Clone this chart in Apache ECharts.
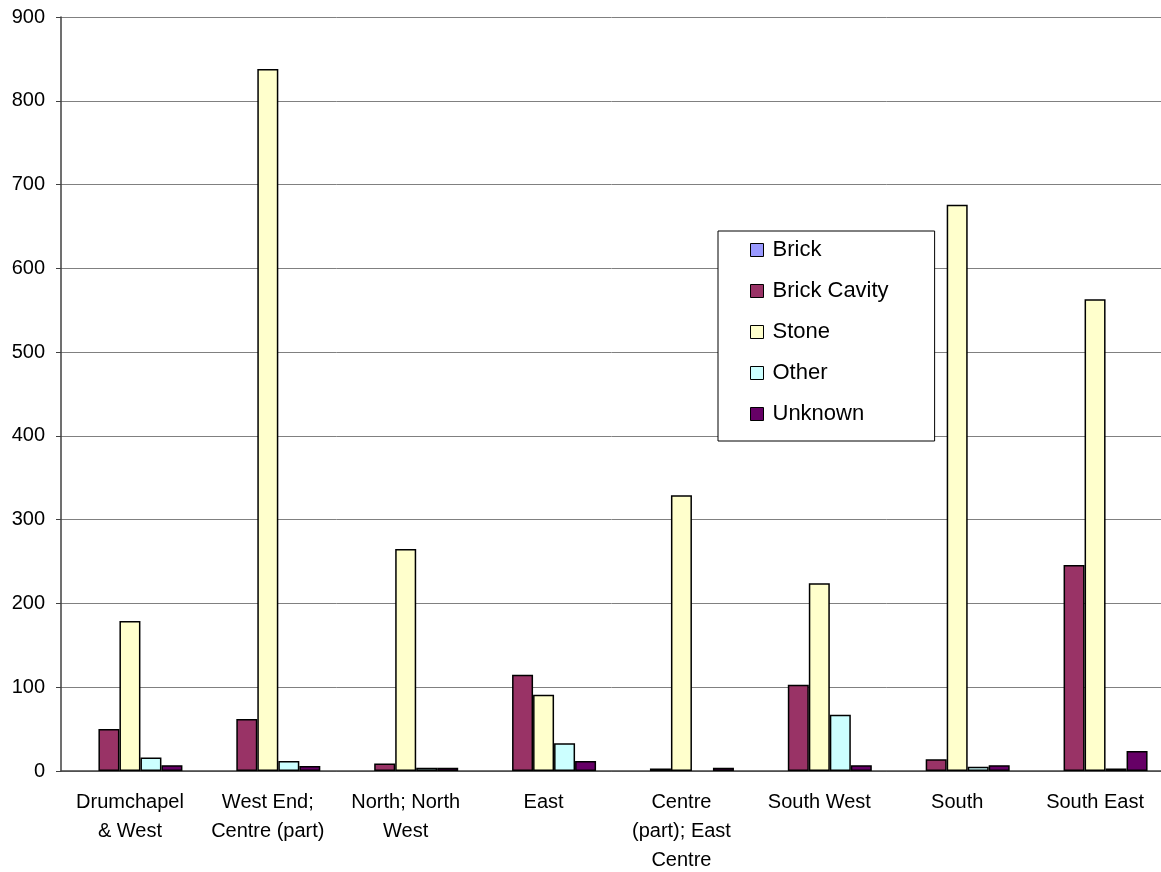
<!DOCTYPE html>
<html>
<head>
<meta charset="utf-8">
<script src="https://cdn.jsdelivr.net/npm/echarts@6/dist/echarts.min.js"></script>
<style>html,body{margin:0;padding:0;background:#fff}#c{width:1161px;height:872px}</style>
</head>
<body>
<div id="c"></div>
<script>
const categories = ["Drumchapel\n& West", "West End;\nCentre (part)", "North; North\nWest", "East", "Centre\n(part); East\nCentre", "South West", "South", "South East"];
const brick = [0, 0, 0, 0, 0, 0, 0, 0];
const brickCavity = [50, 62, 9, 115, 3, 103, 14, 246];
const stone = [179, 838, 265, 91, 329, 224, 676, 563];
const other = [16, 12, 4, 33, 0, 67, 5, 3];
const unknown = [7, 6, 4, 12, 4, 7, 7, 24];
const yTicks = [0, 100, 200, 300, 400, 500, 600, 700, 800, 900];

const seriesDefs = [
  { name: "Brick", data: brick, color: "#9999FF" },
  { name: "Brick Cavity", data: brickCavity, color: "#993366" },
  { name: "Stone", data: stone, color: "#FFFFCC" },
  { name: "Other", data: other, color: "#CCFFFF" },
  { name: "Unknown", data: unknown, color: "#660066" }
];

const chart = echarts.init(document.getElementById('c'), null, { renderer: 'canvas' });
chart.setOption({
  animation: false,
  backgroundColor: '#ffffff',
  textStyle: { fontFamily: 'Liberation Sans, Arial, sans-serif' },
  grid: { left: 61, right: -3, top: 17, bottom: 101, containLabel: false, outerBoundsMode: 'none' },
  legend: {
    orient: 'vertical',
    left: 718,
    top: 231,
    backgroundColor: '#ffffff',
    borderColor: '#000000',
    borderWidth: 1,
    padding: [8, 46, 16, 32],
    itemWidth: 13,
    itemHeight: 13,
    itemGap: 19,
    icon: 'rect',
    itemStyle: { borderColor: '#000', borderWidth: 1 },
    textStyle: { fontSize: 22, color: '#000', lineHeight: 20, padding: [0, 0, 0, 4] },
    data: seriesDefs.map(s => s.name)
  },
  xAxis: {
    type: 'category',
    data: categories,
    axisLine: { lineStyle: { color: '#404040', width: 1.5 } },
    axisTick: { show: false },
    axisLabel: { fontSize: 20, color: '#000', lineHeight: 29, margin: 17, interval: 0 }
  },
  yAxis: {
    type: 'value',
    min: 0,
    max: 900,
    interval: 100,
    axisLine: { show: true, lineStyle: { color: '#404040', width: 1.5 } },
    axisTick: { show: true, length: 5, lineStyle: { color: '#404040' } },
    axisLabel: { fontSize: 20, color: '#000', margin: 16, formatter: v => yTicks.includes(v) ? String(v) : '' },
    splitLine: { show: true, lineStyle: { color: '#808080', width: 1 } }
  },
  series: seriesDefs.map(s => ({
    name: s.name,
    type: 'bar',
    data: s.data.map(v => v === 0 ? { value: v, itemStyle: { borderWidth: 0 } } : v),
    barWidth: 21,
    barGap: '0%',
    itemStyle: { color: s.color, borderColor: '#000', borderWidth: 1.5 },
    emphasis: { disabled: true }
  }))
});
</script>
</body>
</html>
